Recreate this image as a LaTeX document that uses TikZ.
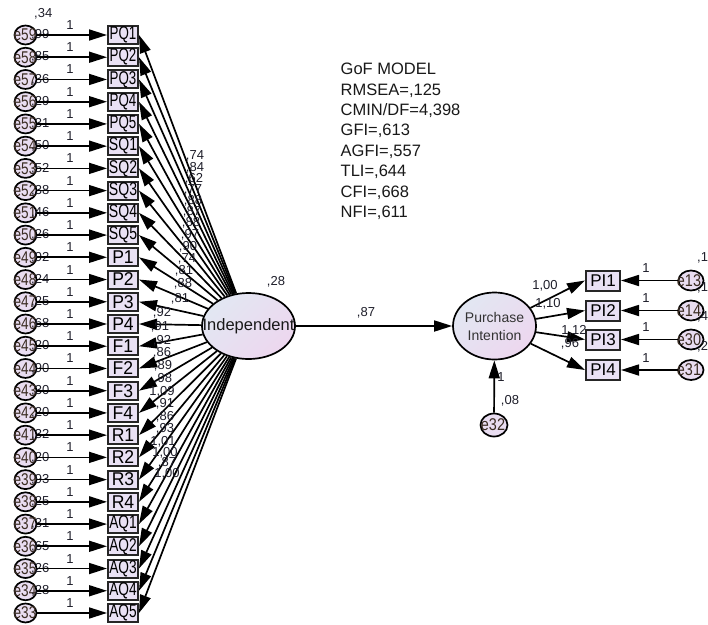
\documentclass[tikz,border=0pt]{standalone}
\usepackage{fontspec}
\setmainfont{Liberation Sans}
\usetikzlibrary{arrows.meta,shapes.geometric}
\definecolor{boxfill}{HTML}{E9E1F4}
\definecolor{errfill}{HTML}{E9DDF1}
\definecolor{latA}{HTML}{E2E7F2}
\definecolor{latB}{HTML}{EDD7EF}
\definecolor{numcol}{HTML}{1E1E2A}
\definecolor{elabcol}{HTML}{3A2C22}
\begin{document}
\begin{tikzpicture}[x=1pt,y=-1pt,
  obs/.style={draw=black!85, line width=2pt, fill=boxfill, minimum width=30pt, minimum height=18pt, inner sep=0pt, font=\fontsize{18.5}{18.5}\selectfont},
  obsr/.style={draw=black!85, line width=2pt, fill=boxfill, minimum width=34pt, minimum height=20pt, inner sep=0pt, font=\fontsize{17}{17}\selectfont},
  err/.style={ellipse, draw=black, line width=1.7pt, fill=errfill, inner sep=0pt},
  lat/.style={ellipse, draw=black, line width=1.7pt, left color=latA, right color=latB, shading angle=45, inner sep=0pt},
  regpath/.style={line width=1.7pt, -{Triangle[length=18pt,width=11pt]}},
  num/.style={font=\fontsize{13}{13}\selectfont, inner sep=0pt, text=numcol},
  elab/.style={font=\fontsize{17}{17}\selectfont, inner sep=0pt, text=elabcol},
]
\useasboundingbox (0,0) rectangle (708,624);

% ---- left column: error circles, observed boxes
\foreach \lab/\sc [count=\i from 0] in {PQ1/0.72,PQ2/0.72,PQ3/0.72,PQ4/0.72,PQ5/0.72,SQ1/0.76,SQ2/0.76,SQ3/0.76,SQ4/0.76,SQ5/0.76,P1/0.95,P2/0.95,P3/0.95,P4/0.95,F1/0.95,F2/0.95,F3/0.95,F4/0.95,R1/0.95,R2/0.95,R3/0.95,R4/0.95,AQ1/0.74,AQ2/0.74,AQ3/0.74,AQ4/0.74,AQ5/0.74} {
  \pgfmathsetmacro\yy{35+22.23*\i}
  \pgfmathtruncatemacro\en{59-\i}
  \node[obs] (b\i) at (123,\yy) {\scalebox{\sc}[1]{\lab}};
  \node[err, minimum width=22pt, minimum height=19pt] (c\i) at (25.5,\yy) {};
  \node[elab] (t\i) at (25,\yy) {\scalebox{0.8}[1]{e\en}};
  \node[num] (one\i) at (70,\yy-10) {1};
}
% variances shown at each row
\foreach \v [count=\i from 0] in {{,99},{,85},{,36},{,29},{,31},{,50},{,52},{,38},{,46},{,26},{,92},{,24},{,25},{,68},{,20},{,90},{,30},{,20},{,32},{,20},{,93},{,25},{,31},{,65},{,26},{,28}} {
  \pgfmathsetmacro\yy{35+22.23*\i}
  \node[num, anchor=west] (v\i) at (31,\yy) {\v};
}
\node[num, anchor=west] (vtop) at (34,14) {,34};
\foreach \i in {0,...,26} {
  \draw[regpath] (c\i) -- (b\i);
}

% ---- latent variables
\node[lat, minimum width=93pt, minimum height=66pt] (ind) at (248.5,326) {};
\node[font=\fontsize{16.5}{16.5}\selectfont, text=black!90, inner sep=0pt] (indt) at (248.5,326) {Independent};
\node[num] (ind28) at (276,282) {,28};
\node[lat, minimum width=83pt, minimum height=67pt] (pi) at (494.5,326) {};
\node[font=\fontsize{14}{18}\selectfont, text=black!80, align=center, inner sep=0pt] (pit) at (494.5,326) {Purchase\\Intention};

\foreach \i in {0,...,26} {
  \draw[regpath] (ind) -- (b\i.east);
}
\draw[regpath] (ind) -- (pi);
\node[num] (l87) at (366,313) {,87};

% loadings
\foreach \x/\y/\t [count=\k] in {195/156/{,74},195/168/{,84},194/179/{,62},193/190/{,77},193/201/{,88},192/212/{,87},191/223/{,88},190/235/{,97},188/247/{,90},187/259/{,74},184/271/{,81},183/284/{,88},180/299/{,81},
  162/313/{,92},160/327/{,91},162/341/{,92},162/353/{,86},163/366/{,89},163/379/{,98},162/392/{1,09},165/404/{,91},165/417/{,86},165/429/{,93},163/442/{1,01},165/453/{1,00},167/463/{,87},167/474/{1,00}} {
  \node[num] (ld\k) at (\x,\y) {\t};
}

% ---- right side
\foreach \lab/\yy/\en/\vv [count=\j] in {PI1/280.5/13/{,13},PI2/310.5/14/{,15},PI3/339.5/30/{,47},PI4/370/31/{,20}} {
  \node[obsr] (p\j) at (603,\yy) {\lab};
  \node[err, minimum width=25pt, minimum height=20pt] (r\j) at (691,\yy) {};
  \node[elab] (rt\j) at (689,\yy) {\scalebox{0.85}[1]{e\en}};
  \node[num] (rone\j) at (646,\yy-12) {1};
  \node[num, anchor=west] (rv\j) at (697,\yy-23) {\vv};
  \draw[regpath] (r\j) -- (p\j.east);
  \draw[regpath] (pi) -- (p\j.west);
}
\node[num] (w1) at (545,286) {1,00};
\node[num] (w2) at (548,304) {1,10};
\node[num] (w3) at (574,331) {1,12};
\node[num] (w4) at (570,344) {,96};

\node[err, minimum width=27pt, minimum height=23pt] (e32) at (494,425) {};
\node[elab] (e32t) at (493,425) {\scalebox{0.85}[1]{e32}};
\draw[regpath] (e32) -- (pi);
\node[num] (e32one) at (501,377) {1};
\node[num] (e32v) at (510,401) {,08};

% ---- fit indices
\node[anchor=north west, align=left, inner sep=0pt, font=\fontsize{16.5}{20.4}\selectfont, text=black!90] (gof) at (340.5,63)
 {GoF MODEL\\RMSEA=,125\\CMIN/DF=4,398\\GFI=,613\\AGFI=,557\\TLI=,644\\CFI=,668\\NFI=,611};
\end{tikzpicture}
\end{document}
